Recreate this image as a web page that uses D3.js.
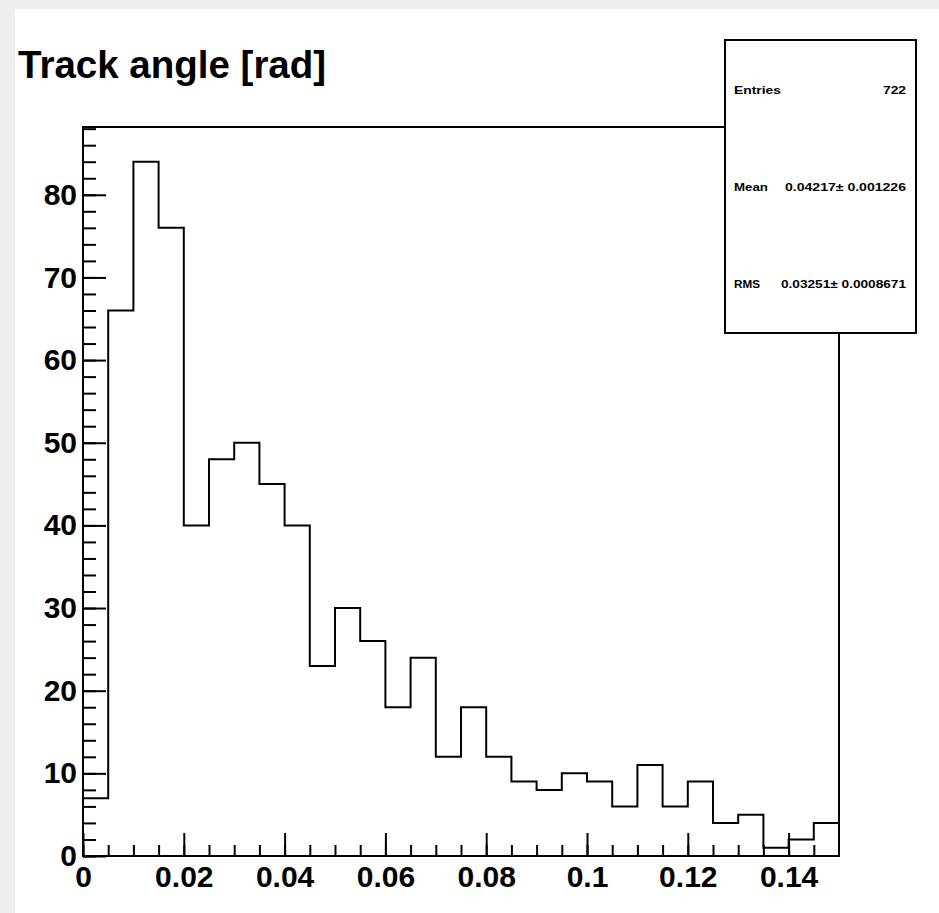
<!DOCTYPE html>
<html>
<head>
<meta charset="utf-8">
<script src="https://cdn.jsdelivr.net/npm/d3@7"></script>
<style>
  body { margin: 0; background: #eeeeee; }
  svg { display: block; }
  text { font-family: "Liberation Sans", Arial, sans-serif; }
</style>
</head>
<body>
<div id="chart"></div>
<script>
// histogram: 30 bins of width 0.005 from 0 to 0.15
var binEdges = d3.range(0, 30).map(function (i) { return i * 0.005; });
var counts = [7, 66, 84, 76, 40, 48, 50, 45, 40, 23,
              30, 26, 18, 24, 12, 18, 12, 9, 8, 10,
              9, 6, 11, 6, 9, 4, 5, 1, 2, 4];
var xTicks = [0, 0.02, 0.04, 0.06, 0.08, 0.1, 0.12, 0.14];
var xTickLabels = ["0", "0.02", "0.04", "0.06", "0.08", "0.1", "0.12", "0.14"];
var yTicks = [0, 10, 20, 30, 40, 50, 60, 70, 80];
var statNames = ["Entries", "Mean", "RMS"];
var statValues = ["722", "0.04217\u00b1 0.001226", "0.03251\u00b1 0.0008671"];

var W = 939, H = 913;
var svg = d3.select("#chart").append("svg")
    .attr("width", W)
    .attr("height", H);

// white pad
svg.append("rect")
    .attr("x", 15).attr("y", 9)
    .attr("width", W - 15).attr("height", H - 9)
    .attr("fill", "white");

var x = d3.scaleLinear().domain([0, 0.15]).range([83, 839]);
var y = d3.scaleLinear().domain([0, 88.2]).range([856, 127]);

// title
svg.append("text")
    .attr("x", 18).attr("y", 78)
    .attr("font-size", 38.5)
    .attr("font-weight", "bold")
    .text("Track angle [rad]");

// frame
svg.append("rect")
    .attr("x", x(0)).attr("y", y(88.2))
    .attr("width", x(0.15) - x(0))
    .attr("height", y(0) - y(88.2))
    .attr("fill", "none")
    .attr("stroke", "black")
    .attr("stroke-width", 2);

// histogram outline
var pts = [[0, 0]];
binEdges.forEach(function (e, i) { pts.push([e, counts[i]]); });
pts.push([0.15, counts[counts.length - 1]]);
pts.push([0.15, 0]);

var line = d3.line()
    .x(function (d) { return x(d[0]); })
    .y(function (d) { return y(d[1]); })
    .curve(d3.curveStepAfter);

svg.append("path")
    .attr("d", line(pts))
    .attr("fill", "none")
    .attr("stroke", "black")
    .attr("stroke-width", 2);

// y axis, ticks pointing inside
var yMinor = svg.append("g")
    .attr("transform", "translate(" + x(0) + ",0)")
    .call(d3.axisLeft(y).tickValues(d3.range(0, 89, 2)).tickSize(-13).tickFormat(""));

var yMajor = svg.append("g")
    .attr("transform", "translate(" + x(0) + ",0)")
    .call(d3.axisLeft(y).tickValues(yTicks).tickSize(-23).tickPadding(6).tickFormat(d3.format("d")));

// x axis
var xMinor = svg.append("g")
    .attr("transform", "translate(0," + y(0) + ")")
    .call(d3.axisBottom(x).tickValues(d3.range(0, 30).map(function (i) { return i * 0.005; })).tickSize(-11).tickFormat(""));

var xMajor = svg.append("g")
    .attr("transform", "translate(0," + y(0) + ")")
    .call(d3.axisBottom(x).tickValues(xTicks).tickSize(-23).tickPadding(10)
        .tickFormat(function (d, i) { return xTickLabels[i]; }));

[yMinor, yMajor, xMinor, xMajor].forEach(function (g) {
    g.select(".domain").remove();
    g.selectAll("line").attr("stroke", "black").attr("stroke-width", 2);
});

[yMajor, xMajor].forEach(function (g) {
    g.selectAll("text")
        .attr("font-size", 30)
        .attr("font-weight", "bold")
        .attr("fill", "black")
        .attr("font-family", "Liberation Sans, Arial, sans-serif");
});

// stats box
var box = svg.append("g");
box.append("rect")
    .attr("x", 725).attr("y", 40)
    .attr("width", 191).attr("height", 293)
    .attr("fill", "white")
    .attr("stroke", "black")
    .attr("stroke-width", 2);

var rowY = [90, 187, 284];
var nameW = [47, 34, 26], valW = [23, 121, 125];
statNames.forEach(function (n, i) {
    box.append("text")
        .attr("x", 734).attr("y", rowY[i] + 4)
        .attr("font-size", 11)
        .attr("font-weight", "bold")
        .attr("textLength", nameW[i])
        .attr("lengthAdjust", "spacingAndGlyphs")
        .text(n);
    box.append("text")
        .attr("x", 906 - valW[i]).attr("y", rowY[i] + 4)
        .attr("font-size", 11)
        .attr("font-weight", "bold")
        .attr("textLength", valW[i])
        .attr("lengthAdjust", "spacingAndGlyphs")
        .text(statValues[i]);
});
</script>
</body>
</html>
